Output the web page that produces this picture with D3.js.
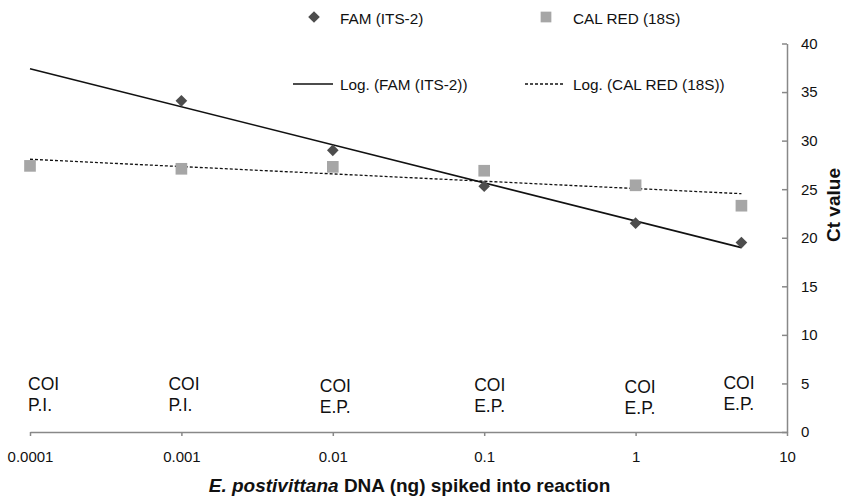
<!DOCTYPE html>
<html lang="en">
<head>
<meta charset="utf-8">
<title>Ct value vs spiked DNA</title>
<script src="https://d3js.org/d3.v7.min.js"></script>
<style>
  body { margin: 0; background: #fff; font-family: "Liberation Sans", Arial, sans-serif; }
  .axis path, .axis line { stroke: #888; stroke-width: 1.5; }
  .axis text { font-family: "Liberation Sans", Arial, sans-serif; font-size: 15px; fill: #111; }
  .note { font-size: 17.5px; fill: #111; }
  .legend text { font-size: 15.3px; fill: #111; }
</style>
</head>
<body>
<div id="chart"></div>
<script>
// data
var dnaNg = [0.0001, 0.001, 0.01, 0.1, 1, 5];
var famCt = [null, 34.1, 29.0, 25.3, 21.5, 19.5];     // FAM (ITS-2)
var calRedCt = [27.4, 27.1, 27.3, 26.9, 25.4, 23.3];  // CAL RED (18S)
var coiLabels = [["COI", "P.I."], ["COI", "P.I."], ["COI", "E.P."], ["COI", "E.P."], ["COI", "E.P."], ["COI", "E.P."]];
var xTicks = [0.0001, 0.001, 0.01, 0.1, 1, 10];
var yTicks = [0, 5, 10, 15, 20, 25, 30, 35, 40];

var W = 844, H = 500;
var plotL = 30, plotR = 787, plotT = 43.5, plotB = 432;

var svg = d3.select("#chart").append("svg")
  .attr("width", W).attr("height", H);

var x = d3.scaleLog().domain([0.0001, 10]).range([plotL, plotR]);
var y = d3.scaleLinear().domain([0, 40]).range([plotB, plotT]);

// axes
svg.append("g")
  .attr("class", "axis")
  .attr("transform", "translate(0," + plotB + ")")
  .call(d3.axisBottom(x).tickValues(xTicks).tickFormat(d3.format("~g"))
    .tickSizeInner(4).tickSizeOuter(0).tickPadding(15));

svg.append("g")
  .attr("class", "axis")
  .attr("transform", "translate(" + plotR + ",0)")
  .call(d3.axisRight(y).tickValues(yTicks)
    .tickSizeInner(-5).tickSizeOuter(0).tickPadding(14));

// logarithmic trendline, least squares on ln(x)
function logFit(xs, ys) {
  var pts = xs.map(function(v, i) { return [Math.log(v), ys[i]]; })
    .filter(function(p) { return p[1] != null; });
  var mx = d3.mean(pts, function(p) { return p[0]; });
  var my = d3.mean(pts, function(p) { return p[1]; });
  var sxy = d3.sum(pts, function(p) { return (p[0] - mx) * (p[1] - my); });
  var sxx = d3.sum(pts, function(p) { return (p[0] - mx) * (p[0] - mx); });
  var a = sxy / sxx, b = my - a * mx;
  return function(v) { return a * Math.log(v) + b; };
}

var line = d3.line().x(function(d) { return x(d[0]); }).y(function(d) { return y(d[1]); });
var ends = [dnaNg[0], dnaNg[dnaNg.length - 1]];

var calFit = logFit(dnaNg, calRedCt);
svg.append("path")
  .datum(ends.map(function(v) { return [v, calFit(v)]; }))
  .attr("d", line)
  .attr("fill", "none").attr("stroke", "#111")
  .attr("stroke-width", 1.3).attr("stroke-dasharray", "3,2");

var famFit = logFit(dnaNg, famCt);
svg.append("path")
  .datum(ends.map(function(v) { return [v, famFit(v)]; }))
  .attr("d", line)
  .attr("fill", "none").attr("stroke", "#111").attr("stroke-width", 1.6);

// markers
var square = d3.symbol().type(d3.symbolSquare).size(136);
var diamond = d3.symbol().type(d3.symbolSquare).size(68);

svg.selectAll(".cal")
  .data(dnaNg.map(function(v, i) { return [v, calRedCt[i]]; }))
  .enter().append("path")
  .attr("class", "cal")
  .attr("d", square)
  .attr("fill", "#a6a6a6")
  .attr("transform", function(d) { return "translate(" + x(d[0]) + "," + y(d[1]) + ")"; });

svg.selectAll(".fam")
  .data(dnaNg.map(function(v, i) { return [v, famCt[i]]; }).filter(function(d) { return d[1] != null; }))
  .enter().append("path")
  .attr("class", "fam")
  .attr("d", diamond)
  .attr("fill", "#4d4d4d")
  .attr("transform", function(d) { return "translate(" + x(d[0]) + "," + y(d[1]) + ") rotate(45)"; });

// COI notes above the x axis
var noteDx = [-2, -13, -13, -10, -11, -18];
var noteDy = [0, 0, 2, 1, 3, -1];
var notes = svg.selectAll(".note")
  .data(coiLabels)
  .enter().append("text")
  .attr("class", "note")
  .attr("x", function(d, i) { return x(dnaNg[i]) + noteDx[i]; })
  .attr("y", function(d, i) { return 390 + noteDy[i]; });
notes.selectAll("tspan")
  .data(function(d) { return d; })
  .enter().append("tspan")
  .attr("x", function() { return d3.select(this.parentNode).attr("x"); })
  .attr("dy", function(d, i) { return i ? 21 : 0; })
  .text(function(d) { return d; });

// legend
var lg = svg.append("g").attr("class", "legend");
lg.append("path").attr("d", diamond).attr("fill", "#4d4d4d")
  .attr("transform", "translate(314,17) rotate(45)");
lg.append("text").attr("x", 340).attr("y", 23.5).text("FAM (ITS-2)");
lg.append("path").attr("d", d3.symbol().type(d3.symbolSquare).size(115)).attr("fill", "#a6a6a6")
  .attr("transform", "translate(546,17)");
lg.append("text").attr("x", 573).attr("y", 23.5).text("CAL RED (18S)");
lg.append("line").attr("x1", 293).attr("x2", 333).attr("y1", 84).attr("y2", 84)
  .attr("stroke", "#111").attr("stroke-width", 1.6);
lg.append("text").attr("x", 340).attr("y", 90).text("Log. (FAM (ITS-2))");
lg.append("line").attr("x1", 525).attr("x2", 565).attr("y1", 84).attr("y2", 84)
  .attr("stroke", "#111").attr("stroke-width", 1.3).attr("stroke-dasharray", "3,2");
lg.append("text").attr("x", 573).attr("y", 90).text("Log. (CAL RED (18S))");

// axis titles
var xt = svg.append("text")
  .attr("x", 409.5).attr("y", 492)
  .attr("text-anchor", "middle")
  .style("font-size", "19px").style("font-weight", "bold").attr("fill", "#111");
xt.append("tspan").style("font-style", "italic").text("E. postivittana");
xt.append("tspan").text(" DNA (ng) spiked into reaction");

svg.append("text")
  .attr("transform", "translate(840,205) rotate(-90)")
  .attr("text-anchor", "middle")
  .style("font-size", "19px").style("font-weight", "bold").attr("fill", "#111")
  .text("Ct value");
</script>
</body>
</html>
